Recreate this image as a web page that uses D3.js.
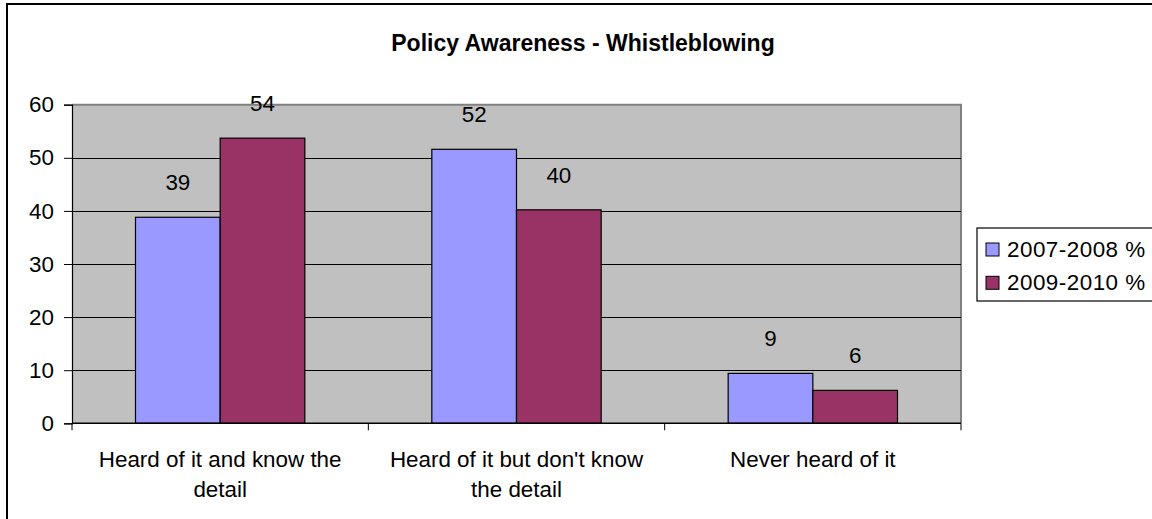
<!DOCTYPE html>
<html>
<head>
<meta charset="utf-8">
<script src="https://cdn.jsdelivr.net/npm/d3@7"></script>
<style>
  html,body{margin:0;padding:0;background:#fff;overflow:hidden;}
  text{font-family:Arial,"Liberation Sans",sans-serif;fill:#000;}
</style>
</head>
<body>
<svg id="chart" width="1152" height="519"></svg>
<script>
"use strict"

// data
const chartTitle="Policy Awareness - Whistleblowing";
const categories=["Heard of it and know the detail","Heard of it but don't know the detail","Never heard of it"];
const seriesNames=["2007-2008 %","2009-2010 %"];
const values0708=[38.8,51.6,9.4];
const values0910=[53.7,40.2,6.2];
const yTicks=[0,10,20,30,40,50,60];
const colors=["#9999FF","#993366"];

const fontSize="22.4px";

const svg=d3.select("#chart");

// outer frame (runs off the right and bottom of the picture)
svg.append("rect")
  .attr("x",7).attr("y",4)
  .attr("width",1160).attr("height",530)
  .attr("fill","#fff")
  .attr("stroke","#000").attr("stroke-width",2);

const plot={left:72,top:104.7,right:961,bottom:423.3};

const x=d3.scaleBand().domain(categories).range([plot.left,plot.right]).paddingInner(0).paddingOuter(0);
const xInner=d3.scaleBand().domain(seriesNames).range([0,x.bandwidth()]).paddingInner(0).paddingOuter(0.75);
const y=d3.scaleLinear().domain([0,60]).range([plot.bottom,plot.top]);

// plot background
svg.append("rect")
  .attr("x",plot.left).attr("y",plot.top)
  .attr("width",plot.right-plot.left).attr("height",plot.bottom-plot.top)
  .attr("fill","#C0C0C0");
// grey border top/right
svg.append("path")
  .attr("d",`M${plot.left},${plot.top}H${plot.right}V${plot.bottom}`)
  .attr("fill","none").attr("stroke","#808080").attr("stroke-width",2);

// gridlines
svg.append("g").selectAll("line")
  .data(yTicks.filter(d=>d>0 && d<60))
  .enter().append("line")
  .attr("x1",plot.left).attr("x2",plot.right)
  .attr("y1",d=>Math.round(y(d))+0.5).attr("y2",d=>Math.round(y(d))+0.5)
  .attr("stroke","#000").attr("stroke-width",1);

// bars
const rows=categories.map((c,i)=>({cat:c,vals:[values0708[i],values0910[i]]}));
const groups=svg.append("g").selectAll("g")
  .data(rows).enter().append("g")
  .attr("transform",d=>`translate(${x(d.cat)},0)`);

groups.selectAll("rect")
  .data(d=>d.vals.map((v,j)=>({name:seriesNames[j],v:v,j:j})))
  .enter().append("rect")
  .attr("x",d=>xInner(d.name))
  .attr("y",d=>y(d.v))
  .attr("width",xInner.bandwidth())
  .attr("height",d=>y(0)-y(d.v))
  .attr("fill",d=>colors[d.j])
  .attr("stroke","#000").attr("stroke-width",1.2);

groups.selectAll("text.val")
  .data(d=>d.vals.map((v,j)=>({name:seriesNames[j],v:v})))
  .enter().append("text")
  .attr("class","val")
  .attr("x",d=>xInner(d.name)+xInner.bandwidth()/2)
  .attr("y",d=>y(d.v)-27)
  .attr("text-anchor","middle")
  .style("font-size",fontSize)
  .text(d=>Math.round(d.v));

// y axis
const yAxis=d3.axisLeft(y).tickValues(yTicks).tickSize(8).tickPadding(10);
const gy=svg.append("g").attr("transform",`translate(${plot.left},0)`).call(yAxis);
gy.select(".domain").attr("stroke","#000").attr("stroke-width",1.2);
gy.selectAll(".tick line").attr("stroke","#000");
gy.selectAll(".tick text").style("font-size",fontSize).style("font-family","Arial,'Liberation Sans',sans-serif").attr("fill","#000");

// x axis line + boundary ticks
svg.append("line")
  .attr("x1",plot.left).attr("x2",plot.right)
  .attr("y1",plot.bottom).attr("y2",plot.bottom)
  .attr("stroke","#000").attr("stroke-width",1.5);
const bounds=categories.map(c=>x(c)).concat([plot.right]);
svg.append("g").selectAll("line")
  .data(bounds).enter().append("line")
  .attr("x1",d=>d).attr("x2",d=>d)
  .attr("y1",plot.bottom).attr("y2",plot.bottom+7)
  .attr("stroke","#000");

// category labels, wrapped
const catText=svg.append("g").selectAll("text")
  .data(categories).enter().append("text")
  .attr("x",d=>x(d)+x.bandwidth()/2)
  .attr("y",467)
  .attr("text-anchor","middle")
  .style("font-size",fontSize);

catText.each(function(d){
  const t=d3.select(this);
  const words=d.split(" ");
  let line=[];
  let tspan=t.append("tspan").attr("x",x(d)+x.bandwidth()/2).attr("dy",0);
  words.forEach(function(w){
    line.push(w);
    tspan.text(line.join(" "));
    if(tspan.node().getComputedTextLength()>278 && line.length>1){
      line.pop();
      tspan.text(line.join(" "));
      line=[w];
      tspan=t.append("tspan").attr("x",x(d)+x.bandwidth()/2).attr("dy",29.5).text(w);
    }
  });
});

// title
svg.append("text")
  .attr("x",583).attr("y",51)
  .attr("text-anchor","middle")
  .style("font-size","23px").style("font-weight","bold")
  .text(chartTitle);

// legend
const lg=svg.append("g").attr("transform","translate(977,228)");
lg.append("rect")
  .attr("x",0).attr("y",0).attr("width",190).attr("height",73)
  .attr("fill","#fff").attr("stroke","#000").attr("stroke-width",1.2);
const items=lg.selectAll("g.item").data(seriesNames).enter().append("g")
  .attr("class","item")
  .attr("transform",(d,i)=>`translate(9,${21+i*33.3})`);
items.append("rect")
  .attr("x",0).attr("y",-6).attr("width",13).attr("height",13)
  .attr("fill",(d,i)=>colors[i]).attr("stroke","#000").attr("stroke-width",1);
items.append("text")
  .attr("x",21).attr("y",0).attr("dy","0.35em")
  .style("font-size",fontSize)
  .style("letter-spacing","0.5px")
  .text(d=>d);
</script>
</body>
</html>
